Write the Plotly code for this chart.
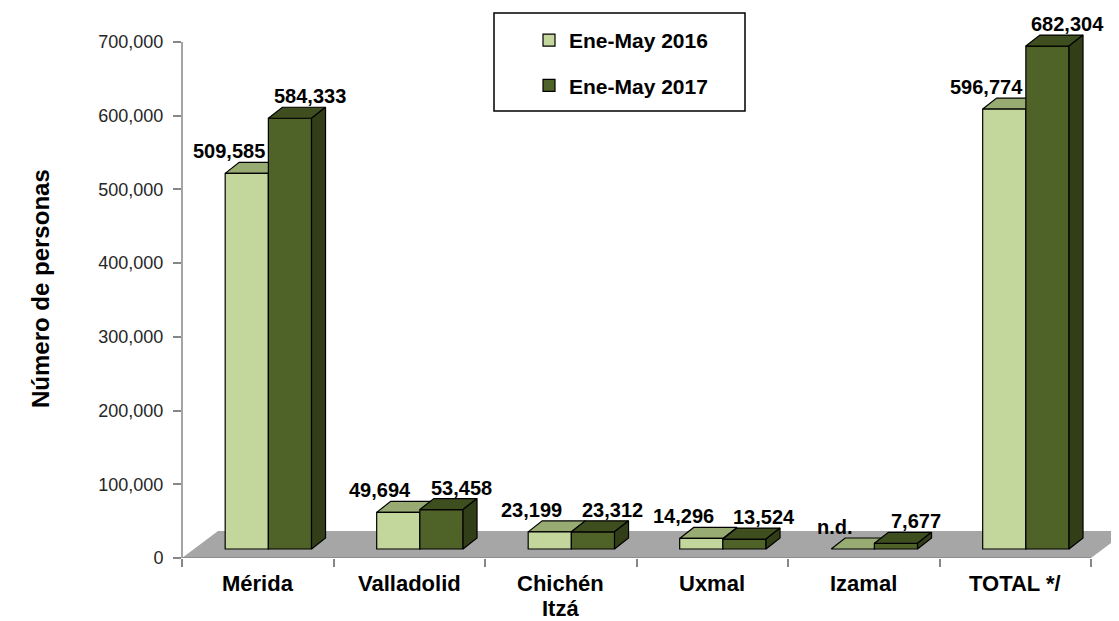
import plotly.graph_objects as go

# ---------------- data ----------------
categories = ["Mérida", "Valladolid", "Chichén<br>Itzá", "Uxmal", "Izamal", "TOTAL */"]
series_names = ["Ene-May 2016", "Ene-May 2017"]
values_2016 = [509585, 49694, 23199, 14296, None, 596774]   # None = n.d.
values_2017 = [584333, 53458, 23312, 13524, 7677, 682304]
y_tick_values = [0, 100000, 200000, 300000, 400000, 500000, 600000, 700000]
y_title = "Número de personas"

# ---------------- geometry / style constants ----------------
OFF = 8                               # page body margin of the browser
FIG_W, FIG_H = 1119 - OFF, 621 - OFF
# positions below are expressed in window pixels, then shifted by OFF
PLOT_L, PLOT_R, PLOT_T, PLOT_B = 182 - OFF, 1119 - OFF, 20 - OFF, 558 - OFF
CAT_PX = 151.5                      # pixels per category
PX_PER_UNIT = (558 - 42) / 700000   # pixels per person
YMAX = (PLOT_B - PLOT_T) / PX_PER_UNIT
XMIN = -0.5
XMAX = XMIN + (PLOT_R - PLOT_L) / CAT_PX


def px_x(p):
    return p / CAT_PX


def px_y(p):
    return p / PX_PER_UNIT


def pxp(p):   # window pixel x -> paper
    return (p - OFF - PLOT_L) / (PLOT_R - PLOT_L)


def pyp(p):   # window pixel y -> paper
    return (PLOT_B - (p - OFF)) / (PLOT_B - PLOT_T)


BASE = px_y(9)            # bars stand slightly back on the floor
BAR_W = 0.285
OFFSETS = [-0.215, 0.07]
DXB, DYB = px_x(14), px_y(11)   # bar depth projection
DXF, DYF = px_x(36), px_y(27)   # floor depth projection

FRONT = ["#C3D69B", "#4F6228"]
TOP = ["#97AB72", "#3E4E1F"]
SIDE = ["#7F9157", "#323E17"]
EDGE = dict(color="black", width=1.2)
FONT = "Arial, 'Liberation Sans', sans-serif"
AXIS_GRAY = "#868686"

n = len(categories)
fig = go.Figure()

# floor
fx = [XMIN, n - 0.5, n - 0.5 + DXF, XMIN + DXF, XMIN]
fy = [0, 0, DYF, DYF, 0]
fig.add_trace(go.Scatter(x=fx, y=fy, mode="lines", fill="toself", fillcolor="#A6A6A6",
                         line=dict(color="#A6A6A6", width=0), hoverinfo="skip",
                         showlegend=False, zorder=0))


def faces(vals, off):
    tx, ty, sx, sy = [], [], [], []
    for i, v in enumerate(vals):
        h = BASE + (v or 0)
        x0 = i + off
        x1 = x0 + BAR_W
        tx += [x0, x1, x1 + DXB, x0 + DXB, x0, None]
        ty += [h, h, h + DYB, h + DYB, h, None]
        sx += [x1, x1, x1 + DXB, x1 + DXB, x1, None]
        sy += [BASE, h, h + DYB, BASE + DYB, BASE, None]
    return tx, ty, sx, sy


z = 1
for k, vals in enumerate([values_2016, values_2017]):
    tx, ty, sx, sy = faces(vals, OFFSETS[k])
    side = go.Scatter(x=sx, y=sy, mode="lines", fill="toself", fillcolor=SIDE[k],
                      line=EDGE, hoverinfo="skip", showlegend=False)
    top = go.Scatter(x=tx, y=ty, mode="lines", fill="toself", fillcolor=TOP[k],
                     line=EDGE, hoverinfo="skip", showlegend=False)
    front = go.Bar(x=list(range(n)), y=vals, base=BASE, width=BAR_W, offset=OFFSETS[k],
                   marker=dict(color=FRONT[k], line=EDGE), name=series_names[k],
                   legendgroup=series_names[k], hoverinfo="skip")
    if k == 0:
        order = [side, top, front]
    else:
        order = [front, top, side]
    for tr in order:
        tr.zorder = z
        z += 1
        fig.add_trace(tr)

annotations = []
# data labels
for k, vals in enumerate([values_2016, values_2017]):
    shift = -18 if k == 0 else 20
    for i, v in enumerate(vals):
        txt = "n.d." if v is None else f"{v:,}"
        annotations.append(dict(
            x=i + OFFSETS[k] + BAR_W / 2, y=BASE + (v or 0), xref="x", yref="y",
            text=txt, showarrow=False, xanchor="center", yanchor="bottom",
            xshift=shift, yshift=9,
            font=dict(family=FONT, size=20, color="black", weight="bold")))

# category labels (each line placed separately for tighter line spacing)
for i, c in enumerate(categories):
    for j, line in enumerate(c.split("<br>")):
        annotations.append(dict(
            x=i, y=pyp(583 + 25 * j), xref="x", yref="paper",
            text=line, showarrow=False, xanchor="center", yanchor="middle",
            font=dict(family=FONT, size=22, color="black", weight="bold")))

# y-axis title
annotations.append(dict(
    x=pxp(40), y=pyp(289), xref="paper", yref="paper", text=y_title, textangle=-90,
    showarrow=False, xanchor="center", yanchor="middle",
    font=dict(family=FONT, size=24, color="black", weight="bold")))

shapes = [
    # y axis line
    dict(type="line", xref="paper", yref="y", x0=0, x1=0, y0=0, y1=700000,
         line=dict(color=AXIS_GRAY, width=1.5)),
    # x axis line (floor front edge)
    dict(type="line", xref="x", yref="y", x0=XMIN, x1=n - 0.5, y0=0, y1=0,
         line=dict(color=AXIS_GRAY, width=1.5)),
    # legend box
    dict(type="rect", xref="paper", yref="paper", x0=pxp(494), x1=pxp(745),
         y0=pyp(111), y1=pyp(13), line=dict(color="black", width=1.5),
         fillcolor="rgba(0,0,0,0)"),
]

fig.update_layout(
    width=FIG_W, height=FIG_H,
    margin=dict(l=PLOT_L, r=FIG_W - PLOT_R, t=PLOT_T, b=FIG_H - PLOT_B, pad=0),
    paper_bgcolor="white", plot_bgcolor="white",
    barmode="overlay",
    showlegend=True,
    legend=dict(x=pxp(529), y=pyp(20), xanchor="left", yanchor="top",
                bgcolor="rgba(0,0,0,0)", borderwidth=0, tracegroupgap=15,
                font=dict(family=FONT, size=21, color="black", weight="bold")),
    xaxis=dict(range=[XMIN, XMAX], tickvals=[i - 0.5 for i in range(n + 1)],
               showticklabels=False, ticks="outside", ticklen=8, tickwidth=1.5,
               tickcolor=AXIS_GRAY, showgrid=False, zeroline=False, showline=False,
               fixedrange=True),
    yaxis=dict(range=[0, YMAX], tickvals=y_tick_values, tickformat=",",
               ticks="outside", ticklen=8, tickwidth=1.5, tickcolor=AXIS_GRAY,
               ticklabelstandoff=6,
               tickfont=dict(family=FONT, size=18, color="#262626"),
               showgrid=False, zeroline=False, showline=False, fixedrange=True),
    annotations=annotations,
    shapes=shapes,
)

fig.write_html("out.html")
